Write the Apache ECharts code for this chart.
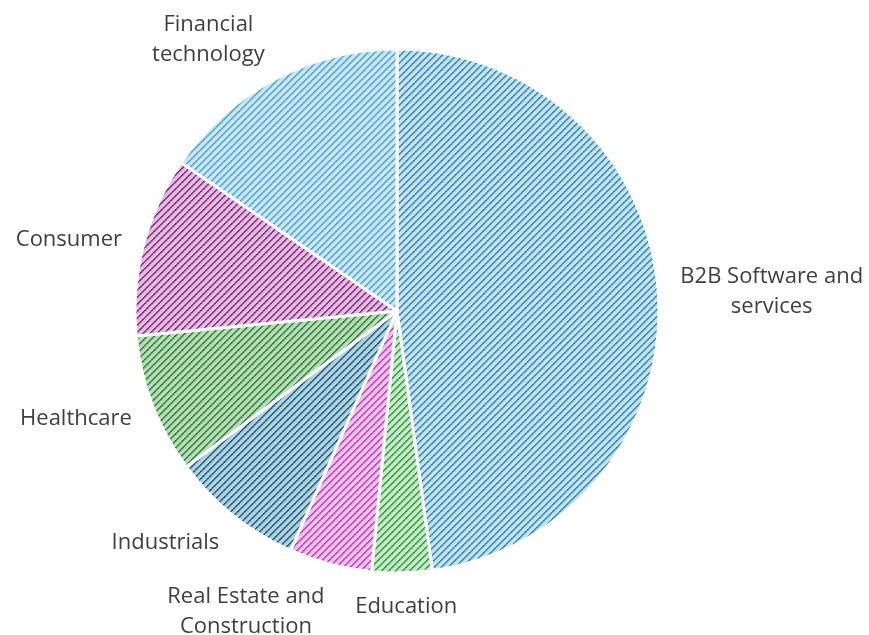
<!DOCTYPE html>
<html>
<head>
<meta charset="utf-8">
<script src="https://cdn.jsdelivr.net/npm/echarts@6/dist/echarts.min.js"></script>
<style>
  html, body { margin: 0; padding: 0; background: #ffffff; }
  #chart { width: 869px; height: 635px; }
</style>
</head>
<body>
<div id="chart"></div>
<script>
// Sector names and their shares (%)
const categories = [
  'B2B Software and\nservices',
  'Education',
  'Real Estate and\nConstruction',
  'Industrials',
  'Healthcare',
  'Consumer',
  'Financial\ntechnology'
];
const shares = [47.8, 3.7, 5.1, 8.2, 8.6, 11.1, 15.4];

// Light fill and stripe colour for each sector
const fillColors   = ['#bfe3f1', '#c2ecc4', '#f2c0ee', '#abd3e4', '#b4deb4', '#e9b9e5', '#c6e7f6'];
const stripeColors = ['#2a7aa0', '#2a8a3a', '#b036a8', '#1b4a66', '#2a6e34', '#6a2265', '#4598c8'];

const PIE_CX = 397, PIE_CY = 311, PIE_R = 262;
const LABEL_GAP_X = 22, LABEL_GAP_Y = 17, LABEL_SHIFT_Y = 2;

// Upward diagonal dashed stripe tile
function stripeTile(bg, fg) {
  const size = 7;
  const c = document.createElement('canvas');
  c.width = size; c.height = size;
  const ctx = c.getContext('2d');
  ctx.fillStyle = bg;
  ctx.fillRect(0, 0, size, size);
  ctx.fillStyle = fg;
  for (let y = 0; y < size; y++) {
    const x = size - 1 - y;
    ctx.globalAlpha = (y % 2 === 0) ? 1 : 0.85;
    ctx.fillRect(x, y, 1, 1);
    ctx.globalAlpha = (y % 2 === 0) ? 0.75 : 0.55;
    ctx.fillRect((x + 1) % size, y, 1, 1);
    ctx.globalAlpha = 0.2;
    ctx.fillRect((x + 2) % size, y, 1, 1);
  }
  ctx.globalAlpha = 1;
  return c;
}

// Mid-angle of each sector, clockwise from 12 o'clock (radians)
const total = shares.reduce((a, b) => a + b, 0);
const midAngles = [];
let acc = 0;
shares.forEach(v => {
  midAngles.push((acc + v / 2) / total * Math.PI * 2);
  acc += v;
});

const chart = echarts.init(document.getElementById('chart'), null, { renderer: 'canvas' });

const data = categories.map((name, i) => ({
  name: name,
  value: shares[i],
  itemStyle: {
    color: { image: stripeTile(fillColors[i], stripeColors[i]), repeat: 'repeat' }
  }
}));

chart.setOption({
  animation: false,
  backgroundColor: '#ffffff',
  series: [{
    type: 'pie',
    center: [PIE_CX, PIE_CY],
    radius: [0, PIE_R],
    startAngle: 90,
    clockwise: true,
    avoidLabelOverlap: false,
    data: data,
    itemStyle: {
      borderColor: '#ffffff',
      borderWidth: 3
    },
    label: {
      show: true,
      position: 'outside',
      fontFamily: 'Open Sans',
      fontSize: 22,
      lineHeight: 30,
      color: '#404040',
      formatter: '{b}'
    },
    labelLine: { show: false, length: 18, length2: 0 },
    emphasis: { disabled: true },
    // Place each label just outside the rim along its sector's mid-line
    labelLayout: function (p) {
      const a = midAngles[p.dataIndex];
      const ux = Math.sin(a), uy = -Math.cos(a);
      const w = p.labelRect.width, h = p.labelRect.height;
      const px = PIE_CX + ux * (PIE_R + LABEL_GAP_X);
      const py = PIE_CY + uy * (PIE_R + LABEL_GAP_Y) + LABEL_SHIFT_Y;
      const sx = Math.max(-1, Math.min(1, ux * 4));
      return {
        x: px + sx * w / 2,
        y: py + uy * h / 2,
        align: 'center',
        verticalAlign: 'middle'
      };
    }
  }]
});
</script>
</body>
</html>
